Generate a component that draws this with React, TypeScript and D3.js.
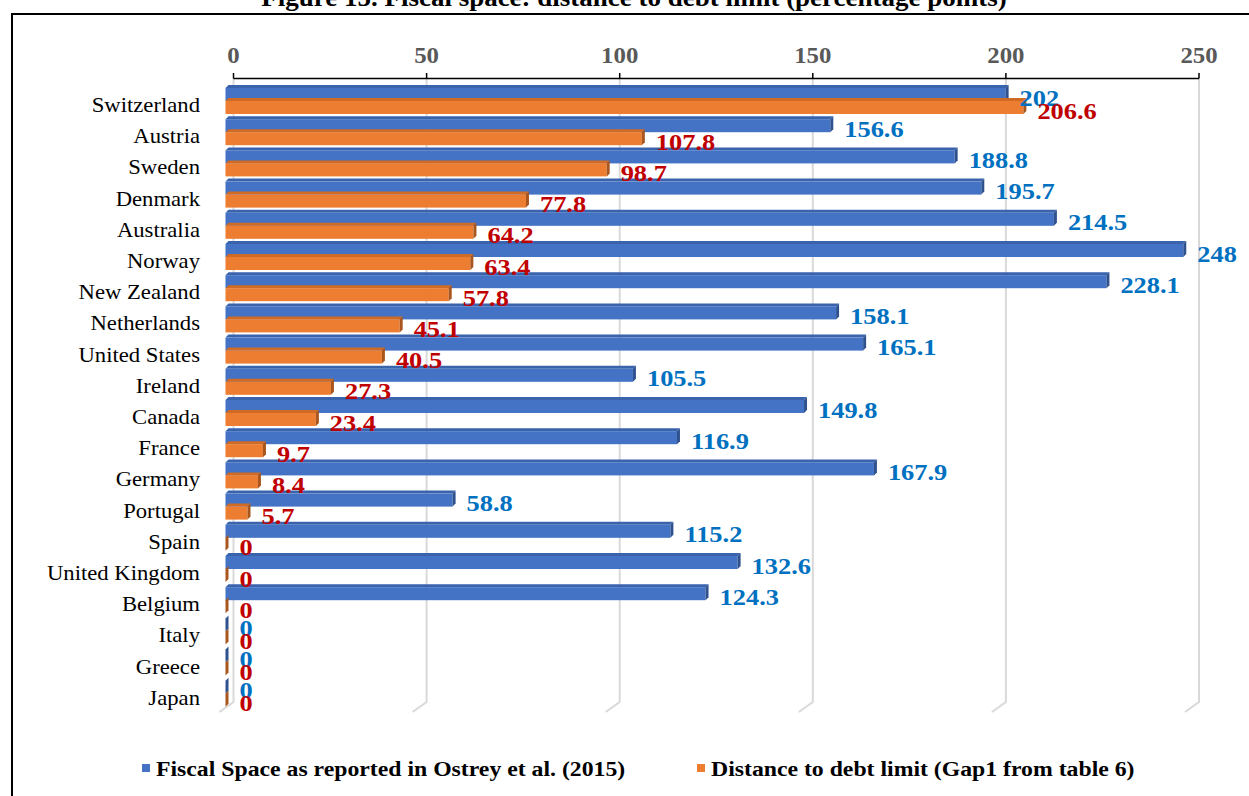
import * as d3 from "d3";

const countries = [
  "Switzerland", "Austria", "Sweden", "Denmark", "Australia", "Norway", "New Zealand",
  "Netherlands", "United States", "Ireland", "Canada", "France", "Germany", "Portugal",
  "Spain", "United Kingdom", "Belgium", "Italy", "Greece", "Japan",
];
const fiscalSpace = [202, 156.6, 188.8, 195.7, 214.5, 248, 228.1, 158.1, 165.1, 105.5, 149.8, 116.9, 167.9, 58.8, 115.2, 132.6, 124.3, 0, 0, 0];
const debtLimitGap = [206.6, 107.8, 98.7, 77.8, 64.2, 63.4, 57.8, 45.1, 40.5, 27.3, 23.4, 9.7, 8.4, 5.7, 0, 0, 0, 0, 0, 0];
const ticks = [0, 50, 100, 150, 200, 250];

const seriesNames = [
  "Fiscal Space as reported in Ostrey et al. (2015)",
  "Distance to debt limit (Gap1 from table 6)",
];
const title = "Figure 15. Fiscal space: distance to debt limit (percentage points)";

const W = 1249, H = 796;
const FONT = "'Liberation Serif', 'Times New Roman', serif";
const SX = 1.08; // text in the picture is a bit wide

// back wall (axis + gridlines) vs front plane of the bars
const x = d3.scaleLinear().domain([0, 250]).range([233.5, 1199]);
const FRONT = 8; // bars sit this far left of the wall
const y = d3.scaleBand<string>().domain(countries).range([88, 712]);
const BAR_H = 13;
const D = 3; // depth of 3d bar

const series = [
  { name: seriesNames[0], values: fiscalSpace, front: "#4472C4", top: "#3A63AE", side: "#2F528F", label: "#0070C0" },
  { name: seriesNames[1], values: debtLimitGap, front: "#ED7D31", top: "#D06B26", side: "#A9561E", label: "#C00000" },
];

function T(props: any) {
  const { x: tx, y: ty, sx = SX, children, ...rest } = props;
  return (
    <text transform={`translate(${tx},${ty}) scale(${sx},1)`} {...rest}>
      {children}
    </text>
  );
}

function Bar({ x0, x1, top, s }: { x0: number; x1: number; top: number; s: (typeof series)[0] }) {
  const b = top + BAR_H;
  return (
    <g>
      {x1 > x0 && (
        <polygon points={`${x0},${top} ${x1},${top} ${x1 + D},${top - D} ${x0 + D},${top - D}`} fill={s.top} />
      )}
      {x1 > x0 && <rect x={x0} y={top} width={x1 - x0} height={BAR_H} fill={s.front} />}
      <polygon points={`${x1},${b} ${x1},${top} ${x1 + D},${top - D} ${x1 + D},${b - D}`} fill={s.side} />
    </g>
  );
}

export default function App() {
  const bottom = 702;
  return (
    <svg width={W} height={H} style={{ position: "absolute", left: 0, top: 0, background: "#fff" }} fontFamily={FONT}>
      <T x={634} y={6} textAnchor="middle" fontSize={25} fontWeight="bold" fill="#000">{title}</T>
      <rect x={12} y={14} width={1260} height={820} fill="none" stroke="#000" strokeWidth={2} />

      {/* gridlines with floor edge */}
      {ticks.map((t) => (
        <polyline
          key={"g" + t}
          points={`${x(t)},79 ${x(t)},${bottom} ${x(t) - 14},${bottom + 10}`}
          fill="none"
          stroke="#D9D9D9"
          strokeWidth={2}
        />
      ))}

      {/* top axis */}
      <line x1={x(0)} x2={x(250)} y1={78.5} y2={78.5} stroke="#000" strokeWidth={1.5} />
      {ticks.map((t) => (
        <g key={"t" + t}>
          <line x1={x(t)} x2={x(t)} y1={73} y2={78.5} stroke="#000" strokeWidth={1.5} />
          <T x={x(t)} y={63} textAnchor="middle" fontSize={23} fontWeight="bold" fill="#595959">{t}</T>
        </g>
      ))}

      {/* categories */}
      {countries.map((c) => (
        <T key={c} x={200} y={(y(c) ?? 0) + 24} textAnchor="end" fontSize={21} fill="#000">{c}</T>
      ))}

      {/* bars */}
      {countries.map((c, i) => {
        const b0 = y(c) ?? 0;
        return (
          <g key={"b" + c}>
            {series.map((s, k) => {
              const top = b0 + k * BAR_H;
              return <Bar key={k} x0={x(0) - FRONT} x1={x(s.values[i]) - FRONT} top={top} s={s} />;
            })}
          </g>
        );
      })}

      {/* value labels */}
      {countries.map((c, i) => {
        const b0 = y(c) ?? 0;
        return (
          <g key={"l" + c}>
            {series.map((s, k) => (
              <T
                key={k}
                x={x(s.values[i]) - FRONT + 14}
                y={b0 + k * BAR_H + BAR_H / 2 + 11}
                sx={1.1}
                fontSize={24}
                fontWeight="bold"
                fill={s.label}
              >
                {s.values[i]}
              </T>
            ))}
          </g>
        );
      })}

      {/* legend */}
      {series.map((s, k) => {
        const lx = k === 0 ? 142 : 697;
        return (
          <g key={"lg" + k}>
            <rect x={lx} y={764} width={8} height={8} fill={s.front} />
            <T x={lx + 14} y={776} fontSize={22} fontWeight="bold" fill="#000">{s.name}</T>
          </g>
        );
      })}
    </svg>
  );
}
